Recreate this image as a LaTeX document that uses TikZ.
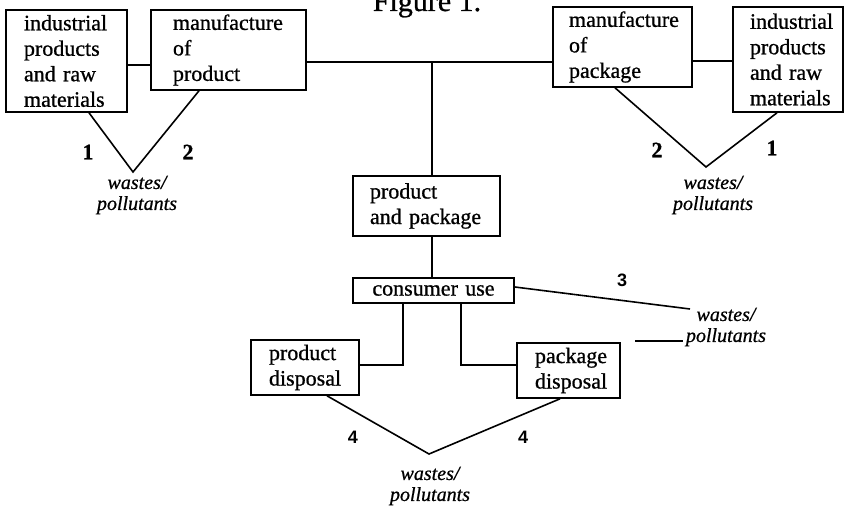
\documentclass[tikz,border=0pt]{standalone}
\usepackage{fontspec}
\setmainfont{Liberation Serif}[FakeBold=0.8]
\newfontfamily\numsans{Liberation Sans}
\begin{document}
\begin{tikzpicture}[x=1pt,y=-1pt,
  box/.style={draw, line width=1.6pt, rectangle, inner ysep=0pt, align=left,
    font=\fontsize{22}{25.5}\selectfont},
  wl/.style={align=center, inner sep=0pt, font=\fontsize{20}{21}\selectfont\itshape},
  numA/.style={inner sep=0pt, font=\fontsize{22}{22}\selectfont\bfseries},
  numB/.style={inner sep=0pt, font=\fontsize{18}{18}\selectfont\numsans\bfseries},
  ln/.style={line width=1.6pt}]
\useasboundingbox (0,0) rectangle (848,510);
\node[anchor=base, font=\fontsize{30}{30}\selectfont] (title) at (427,11) {Figure 1.};
% boxes
\node[box, minimum width=121pt, minimum height=102pt, inner xsep=18pt, text width=85pt] (A) at (66.5,61) {industrial\\products\\and raw\\materials};
\node[box, minimum width=155pt, minimum height=80pt, inner xsep=22pt, text width=111pt] (B) at (228.5,50) {manufacture\\of\\product};
\node[box, minimum width=139pt, minimum height=80pt, inner xsep=16pt, text width=107pt] (C) at (622.5,47) {manufacture\\of\\package};
\node[box, minimum width=110pt, minimum height=105pt, inner xsep=17pt, text width=76pt] (D) at (788,59.5) {industrial\\products\\and raw\\materials};
\node[box, minimum width=147pt, minimum height=60pt, inner xsep=17pt, text width=113pt] (E) at (426.5,206) {product\\and package};
\node[box, minimum width=161pt, minimum height=25pt, inner xsep=0pt, text width=161pt, align=center] (F) at (433.5,290.5) {consumer use};
\node[box, minimum width=108pt, minimum height=55pt, inner xsep=18pt, text width=72pt] (G) at (305,367.5) {product\\disposal};
\node[box, minimum width=103pt, minimum height=55pt, inner xsep=18pt, text width=67pt] (H) at (568.5,370.5) {package\\disposal};
% coordinates
\coordinate (yab) at (0,65);
\coordinate (yt) at (0,62);
\coordinate (ycd) at (0,61);
\coordinate (j) at (432,62);
\coordinate (v1) at (133,172);
\coordinate (v2) at (706,167);
\coordinate (v4) at (429,454);
\coordinate (w3) at (690,309);
\coordinate (s1) at (635,341);
\coordinate (s2) at (683,341);
% connectors
\draw[ln] (A.east |- yab) -- (B.west |- yab);
\draw[ln] (B.east |- yt) -- (C.west |- yt);
\draw[ln] (C.east |- ycd) -- (D.west |- ycd);
\draw[ln] (j) -- (E.north -| j);
\draw[ln] (E.south -| j) -- (F.north -| j);
\draw[ln] ([xshift=22.5pt]A.south) -- (v1) -- ([xshift=-29.5pt]B.south);
\draw[ln] ([xshift=-7.5pt]C.south) -- (v2) -- ([xshift=-11pt]D.south);
\draw[ln] ([yshift=3.5pt]F.east) -- (w3);
\draw[ln] (s1) -- (s2);
\draw[ln] ([xshift=-30.5pt]F.south) |- ([yshift=2.5pt]G.east);
\draw[ln] ([xshift=27.5pt]F.south) |- ([yshift=5.5pt]H.west);
\draw[ln] ([xshift=22pt]G.south) -- (v4) -- ([xshift=-8.5pt]H.south);
% numbers
\node[numA] (n1a) at (88,152) {1};
\node[numA] (n2a) at (188,152) {2};
\node[numA] (n2b) at (657,150) {2};
\node[numA] (n1b) at (772,148) {1};
\node[numB] (n3) at (622,280) {3};
\node[numB] (n4a) at (353,437) {4};
\node[numB] (n4b) at (523,437) {4};
% waste labels
\node[wl] (wa) at (137,195) {wastes/\\pollutants};
\node[wl] (wb) at (713,195) {wastes/\\pollutants};
\node[wl] (wc) at (726,327) {wastes/\\pollutants};
\node[wl] (wd) at (430,486) {wastes/\\pollutants};
\end{tikzpicture}
\end{document}
